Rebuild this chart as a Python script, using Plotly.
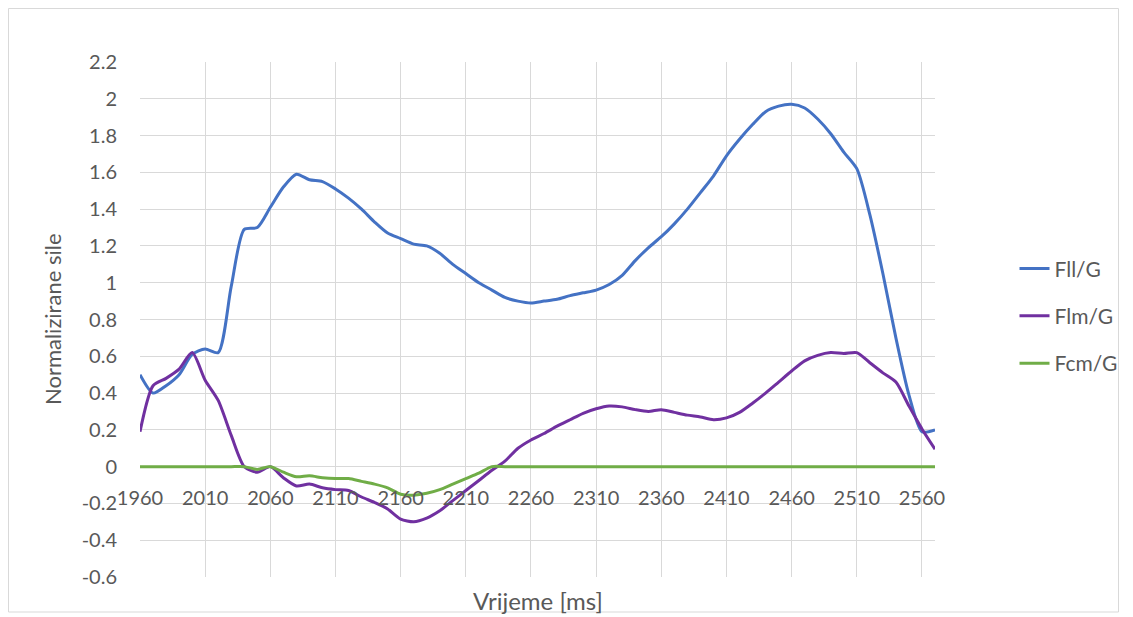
import plotly.graph_objects as go

time_ms = list(range(1960, 2571, 10))

fll_g = [0.50, 0.40, 0.44, 0.50, 0.61, 0.64, 0.62, 0.98, 1.29, 1.30,
         1.41, 1.52, 1.59, 1.56, 1.55, 1.51, 1.46, 1.40, 1.33, 1.27,
         1.24, 1.21, 1.20, 1.16, 1.10, 1.05, 1.00, 0.96, 0.92, 0.90,
         0.89, 0.90, 0.91, 0.93, 0.945, 0.96, 0.99, 1.04, 1.12, 1.19,
         1.25, 1.32, 1.40, 1.49, 1.58, 1.69, 1.78, 1.86, 1.93, 1.96,
         1.97, 1.95, 1.89, 1.81, 1.71, 1.62, 1.37, 1.05, 0.70, 0.39,
         0.19, 0.20]

flm_g = [0.19, 0.44, 0.48, 0.53, 0.62, 0.47, 0.36, 0.17, 0.0, -0.03,
         0.0, -0.06, -0.105, -0.095, -0.115, -0.125, -0.13, -0.165, -0.195, -0.23,
         -0.285, -0.30, -0.28, -0.24, -0.185, -0.13, -0.075, -0.02, 0.03, 0.10,
         0.145, 0.18, 0.22, 0.255, 0.29, 0.315, 0.33, 0.325, 0.31, 0.30,
         0.31, 0.295, 0.28, 0.27, 0.255, 0.265, 0.295, 0.345, 0.40, 0.46,
         0.52, 0.575, 0.605, 0.62, 0.615, 0.62, 0.565, 0.51, 0.46, 0.33,
         0.205, 0.095]

fcm_g = [0.0, 0.0, 0.0, 0.0, 0.0, 0.0, 0.0, 0.0, 0.0, -0.015,
         0.0, -0.03, -0.055, -0.05, -0.06, -0.065, -0.065, -0.08, -0.095, -0.115,
         -0.15, -0.155, -0.145, -0.125, -0.095, -0.065, -0.035, 0.0, 0.0, 0.0,
         0.0, 0.0, 0.0, 0.0, 0.0, 0.0, 0.0, 0.0, 0.0, 0.0,
         0.0, 0.0, 0.0, 0.0, 0.0, 0.0, 0.0, 0.0, 0.0, 0.0,
         0.0, 0.0, 0.0, 0.0, 0.0, 0.0, 0.0, 0.0, 0.0, 0.0,
         0.0, 0.0]

series_names = ["Fll/G", "Flm/G", "Fcm/G"]
series_colors = ["#4472C4", "#7030A0", "#70AD47"]

x_ticks = list(range(1960, 2561, 50))
y_ticks = [round(-0.6 + 0.2 * i, 1) for i in range(15)]
y_labels = [("%g" % v) for v in y_ticks]

FONT = "Lato, Open Sans, sans-serif"
GREY = "#595959"

fig = go.Figure()
for name, vals, col in zip(series_names, [fll_g, flm_g, fcm_g], series_colors):
    fig.add_trace(go.Scatter(
        x=time_ms, y=vals, name=name, mode="lines",
        line=dict(color=col, width=3, shape="spline", smoothing=0.7),
        legendgroup=name,
    ))

y0_frac = (0 - (-0.6)) / (2.2 - (-0.6))

L, T, PW, PH = 132, 54, 795, 515
W, H = 1133, 617

fig.update_layout(
    width=W, height=H,
    margin=dict(l=L, r=W - L - PW, t=T, b=H - T - PH),
    paper_bgcolor="white", plot_bgcolor="white",
    font=dict(family=FONT, size=20, color=GREY),
    showlegend=True,
    legend=dict(x=1.1, y=0.507, xanchor="left", yanchor="middle",
                font=dict(size=21, color=GREY), tracegroupgap=17,
                bgcolor="rgba(0,0,0,0)"),
    xaxis=dict(range=[1960, 2570], tickvals=x_ticks,
               ticktext=[str(v) for v in x_ticks],
               showgrid=True, gridcolor="#D9D9D9", gridwidth=1,
               zeroline=False, showline=False, ticks="",
               anchor="free", position=y0_frac,
               ticklabelstandoff=17,
               tickfont=dict(size=20, color=GREY)),
    yaxis=dict(range=[-0.6, 2.2], tickvals=y_ticks, ticktext=y_labels,
               showgrid=True, gridcolor="#D9D9D9", gridwidth=1,
               zeroline=True, zerolinecolor="#D9D9D9", zerolinewidth=1,
               showline=False, ticks="", ticklabelstandoff=22,
               tickfont=dict(size=20, color=GREY)),
    annotations=[
        dict(text="Vrijeme [ms]", xref="paper", yref="paper",
             x=0.5, y=-0.045, xanchor="center", yanchor="middle",
             showarrow=False, font=dict(size=24, color=GREY)),
        dict(text="Normalizirane sile", xref="paper", yref="paper",
             x=-0.11, y=0.5, xanchor="center", yanchor="middle",
             textangle=-90, showarrow=False, font=dict(size=22, color=GREY)),
    ],
    shapes=[
        dict(type="rect", xref="paper", yref="paper",
             x0=-(L - 0.5) / PW, x1=1 + (1110.5 - (L + PW)) / PW,
             y0=-(604 - (T + PH)) / PH, y1=1 + (T - 0.5) / PH,
             line=dict(color="#D9D9D9", width=1), layer="below"),
    ],
)

fig.write_html("out.html")
